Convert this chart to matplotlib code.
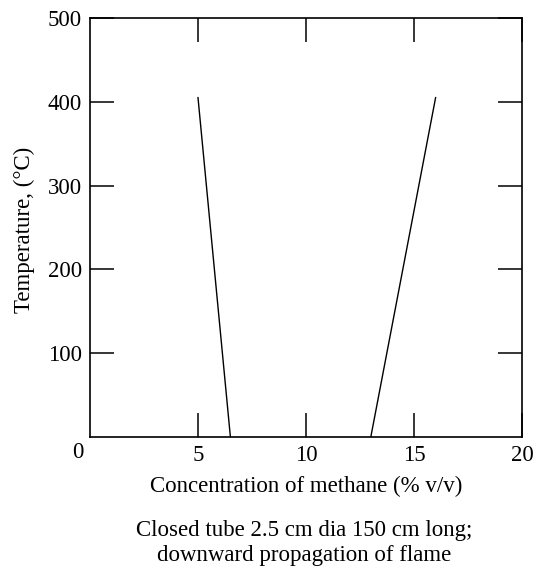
import matplotlib.pyplot as plt

plt.rcParams['font.family'] = ['Liberation Serif', 'DejaVu Serif']

# lower flammability limit line and upper flammability limit line
lower_conc = [5.0, 6.5]
lower_temp = [405, 0]
upper_conc = [13.0, 16.0]
upper_temp = [0, 405]

x_ticks = [5, 10, 15, 20]
y_ticks = [100, 200, 300, 400, 500]

fs = 16.5

fig = plt.figure(figsize=(5.36, 5.70), dpi=100)
ax = fig.add_axes([0.1679, 0.2333, 0.8060, 0.7351])

ax.plot(lower_conc, lower_temp, color='black', lw=1.0)
ax.plot(upper_conc, upper_temp, color='black', lw=1.0)

ax.set_xlim(0, 20)
ax.set_ylim(0, 500)
ax.set_xticks(x_ticks)
ax.set_yticks(y_ticks)
ax.tick_params(direction='in', length=17, width=1.1, top=True, right=True,
               labelsize=fs, colors='black')
ax.tick_params(axis='x', pad=6)
ax.tick_params(axis='y', pad=6)
for s in ax.spines.values():
    s.set_linewidth(1.2)

# origin label sits under the corner
ax.text(-0.55, -19, '0', ha='center', va='center', fontsize=fs)

ax.set_xlabel('Concentration of methane (% v/v)', fontsize=fs, va='center')
ax.xaxis.set_label_coords(0.5, -0.117)
ax.set_ylabel('Temperature, (°C)', fontsize=fs, va='center')
ax.yaxis.set_label_coords(-0.152, 0.494)

fig.text(0.567, 0.0465, 'Closed tube 2.5 cm dia 150 cm long;\ndownward propagation of flame',
         ha='center', va='center', fontsize=fs, linespacing=1.25)

fig.savefig('out.png', dpi=100)
